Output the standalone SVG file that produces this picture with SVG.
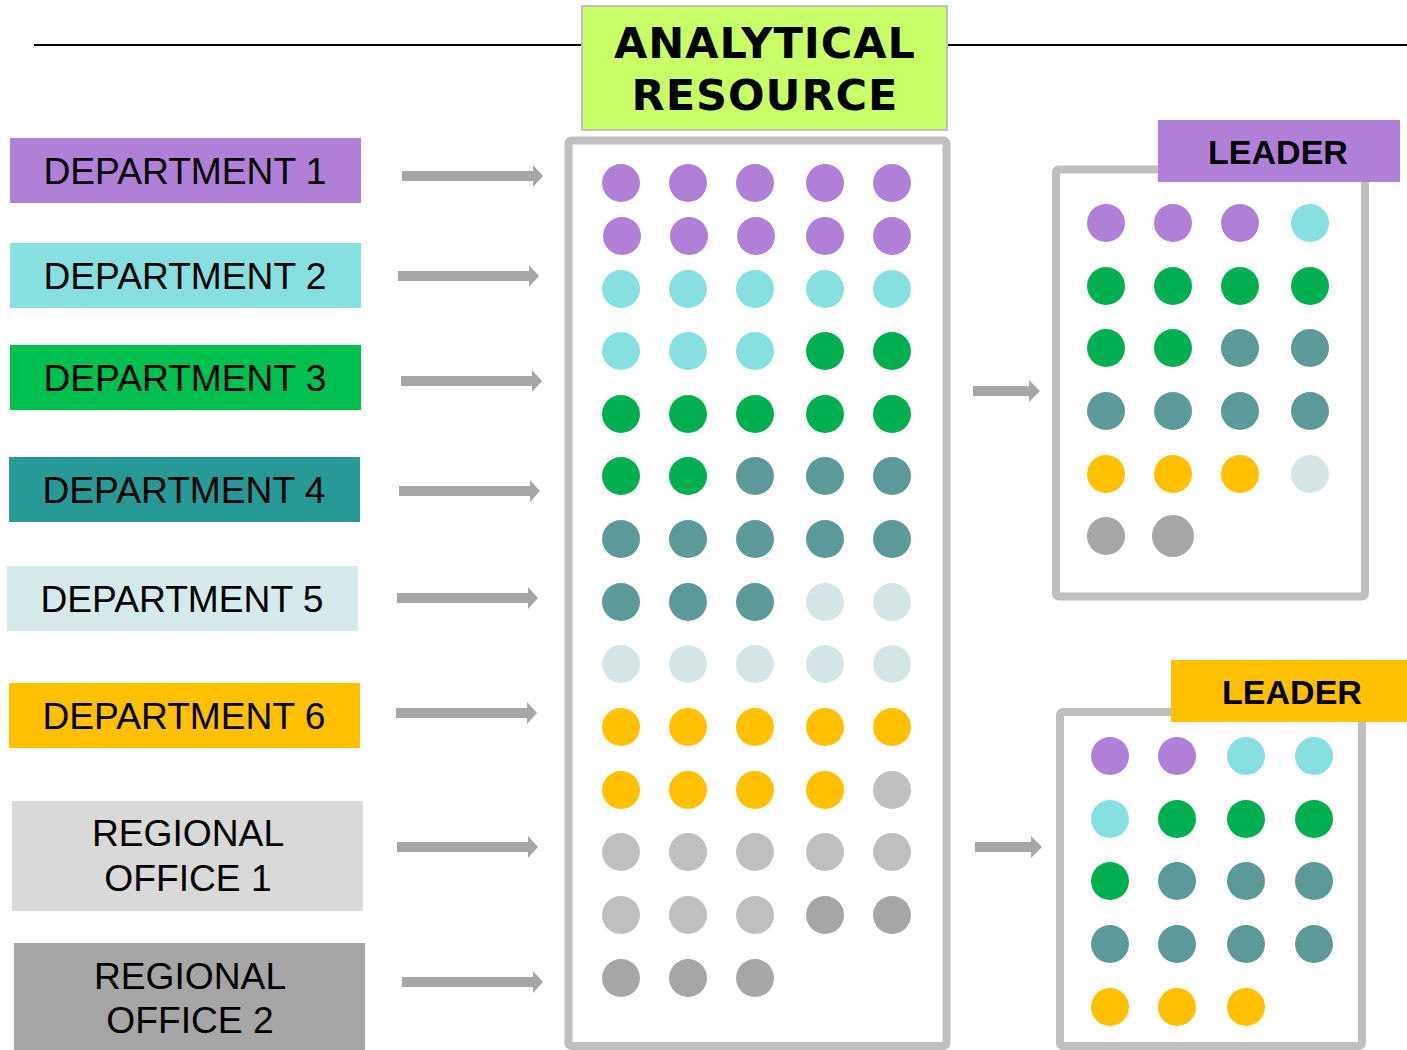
<svg xmlns="http://www.w3.org/2000/svg" width="1407" height="1050" viewBox="0 0 1407 1050">
<style>
.lbl{font-family:"Liberation Sans",Arial,sans-serif;font-size:37.2px;fill:#000;text-anchor:middle}
.ldr{font-family:"Liberation Sans",Arial,sans-serif;font-size:34px;font-weight:bold;fill:#000;text-anchor:middle}
.ttl{font-family:"DejaVu Sans",Verdana,sans-serif;font-size:43px;font-weight:bold;fill:#000;text-anchor:middle;letter-spacing:1px}
.frame{fill:#fff;stroke:#bfbfbf;stroke-width:8}
.arr{fill:#a6a6a6}
.P{fill:#b07fd7}.C{fill:#87e0e0}.G{fill:#00b050}.T{fill:#5b9a98}.W{fill:#d3e5e5}.Y{fill:#ffc000}.L{fill:#bfbfbf}.D{fill:#a6a6a6}
</style>
<defs>
<path id="arrow" d="M0,-5 L131,-5 L131,-11 L141,0 L131,11 L131,5 L0,5 Z"/>
<path id="arrowS" d="M0,-5 L56,-5 L56,-11 L67,0 L56,11 L56,5 L0,5 Z"/>
</defs>
<rect width="1407" height="1050" fill="#fff"/>
<g id="header">
<line x1="34" y1="45" x2="1407" y2="45" stroke="#000" stroke-width="2"/>
<rect x="582" y="6" width="365" height="124" fill="#c8ff66" stroke="#c0c0c0" stroke-width="2"/>
<text class="ttl" x="765" y="58">ANALYTICAL</text>
<text class="ttl" x="765" y="110">RESOURCE</text>
</g>
<g id="dept1"><rect x="10" y="138" width="351" height="65" fill="#b07fd7"/><text class="lbl" x="185" y="184">DEPARTMENT 1</text></g>
<g id="dept2"><rect x="10" y="243" width="351" height="65" fill="#87e0e0"/><text class="lbl" x="185" y="289">DEPARTMENT 2</text></g>
<g id="dept3"><rect x="10" y="345" width="351" height="65" fill="#00c050"/><text class="lbl" x="185" y="391">DEPARTMENT 3</text></g>
<g id="dept4"><rect x="9" y="457" width="351" height="65" fill="#279a98"/><text class="lbl" x="184" y="503">DEPARTMENT 4</text></g>
<g id="dept5"><rect x="7" y="566" width="351" height="65" fill="#d5eaea"/><text class="lbl" x="182" y="612">DEPARTMENT 5</text></g>
<g id="dept6"><rect x="9" y="683" width="351" height="65" fill="#ffc000"/><text class="lbl" x="184" y="729">DEPARTMENT 6</text></g>
<g id="region1"><rect x="12" y="801" width="351" height="110" fill="#d9d9d9"/><text class="lbl" x="188" y="846">REGIONAL</text><text class="lbl" x="188" y="891">OFFICE 1</text></g>
<g id="region2"><rect x="14" y="943" width="351" height="107" fill="#a6a6a6"/><text class="lbl" x="190" y="989">REGIONAL</text><text class="lbl" x="190" y="1033">OFFICE 2</text></g>
<g id="connectors" class="arr">
<use href="#arrow" x="402" y="176"/>
<use href="#arrow" x="398" y="276"/>
<use href="#arrow" x="401" y="381"/>
<use href="#arrow" x="399" y="491"/>
<use href="#arrow" x="397" y="598"/>
<use href="#arrow" x="396" y="713"/>
<use href="#arrow" x="397" y="847"/>
<use href="#arrow" x="402" y="982"/>
<use href="#arrowS" x="973" y="391"/>
<use href="#arrowS" x="975" y="847"/>
</g>
<g id="analytical-resource">
<rect class="frame" x="568.5" y="140.5" width="378" height="905.5" rx="3"/>
<g>
<circle class="P" cx="621" cy="183" r="19"/><circle class="P" cx="688" cy="183" r="19"/><circle class="P" cx="755" cy="183" r="19"/><circle class="P" cx="825" cy="183" r="19"/><circle class="P" cx="892" cy="183" r="19"/>
<circle class="P" cx="622" cy="236" r="19"/><circle class="P" cx="689" cy="236" r="19"/><circle class="P" cx="756" cy="236" r="19"/><circle class="P" cx="825" cy="236" r="19"/><circle class="P" cx="892" cy="236" r="19"/>
<circle class="C" cx="621" cy="289" r="19"/><circle class="C" cx="688" cy="289" r="19"/><circle class="C" cx="755" cy="289" r="19"/><circle class="C" cx="825" cy="289" r="19"/><circle class="C" cx="892" cy="289" r="19"/>
<circle class="C" cx="621" cy="351" r="19"/><circle class="C" cx="688" cy="351" r="19"/><circle class="C" cx="755" cy="351" r="19"/><circle class="G" cx="825" cy="351" r="19"/><circle class="G" cx="892" cy="351" r="19"/>
<circle class="G" cx="621" cy="414" r="19"/><circle class="G" cx="688" cy="414" r="19"/><circle class="G" cx="755" cy="414" r="19"/><circle class="G" cx="825" cy="414" r="19"/><circle class="G" cx="892" cy="414" r="19"/>
<circle class="G" cx="621" cy="476" r="19"/><circle class="G" cx="688" cy="476" r="19"/><circle class="T" cx="755" cy="476" r="19"/><circle class="T" cx="825" cy="476" r="19"/><circle class="T" cx="892" cy="476" r="19"/>
<circle class="T" cx="621" cy="539" r="19"/><circle class="T" cx="688" cy="539" r="19"/><circle class="T" cx="755" cy="539" r="19"/><circle class="T" cx="825" cy="539" r="19"/><circle class="T" cx="892" cy="539" r="19"/>
<circle class="T" cx="621" cy="602" r="19"/><circle class="T" cx="688" cy="602" r="19"/><circle class="T" cx="755" cy="602" r="19"/><circle class="W" cx="825" cy="602" r="19"/><circle class="W" cx="892" cy="602" r="19"/>
<circle class="W" cx="621" cy="664" r="19"/><circle class="W" cx="688" cy="664" r="19"/><circle class="W" cx="755" cy="664" r="19"/><circle class="W" cx="825" cy="664" r="19"/><circle class="W" cx="892" cy="664" r="19"/>
<circle class="Y" cx="621" cy="727" r="19"/><circle class="Y" cx="688" cy="727" r="19"/><circle class="Y" cx="755" cy="727" r="19"/><circle class="Y" cx="825" cy="727" r="19"/><circle class="Y" cx="892" cy="727" r="19"/>
<circle class="Y" cx="621" cy="790" r="19"/><circle class="Y" cx="688" cy="790" r="19"/><circle class="Y" cx="755" cy="790" r="19"/><circle class="Y" cx="825" cy="790" r="19"/><circle class="L" cx="892" cy="790" r="19"/>
<circle class="L" cx="621" cy="852" r="19"/><circle class="L" cx="688" cy="852" r="19"/><circle class="L" cx="755" cy="852" r="19"/><circle class="L" cx="825" cy="852" r="19"/><circle class="L" cx="892" cy="852" r="19"/>
<circle class="L" cx="621" cy="915" r="19"/><circle class="L" cx="688" cy="915" r="19"/><circle class="L" cx="755" cy="915" r="19"/><circle class="D" cx="825" cy="915" r="19"/><circle class="D" cx="892" cy="915" r="19"/>
<circle class="D" cx="621" cy="978" r="19"/><circle class="D" cx="688" cy="978" r="19"/><circle class="D" cx="755" cy="978" r="19"/>
</g>
</g>
<g id="team1">
<rect class="frame" x="1056" y="169.5" width="309" height="427" rx="3"/>
<rect x="1158" y="120" width="242" height="62" fill="#b07fd7"/>
<text class="ldr" x="1278" y="164">LEADER</text>
<circle class="P" cx="1106" cy="223" r="19"/><circle class="P" cx="1173" cy="223" r="19"/><circle class="P" cx="1240" cy="223" r="19"/><circle class="C" cx="1310" cy="223" r="19"/>
<circle class="G" cx="1106" cy="286" r="19"/><circle class="G" cx="1173" cy="286" r="19"/><circle class="G" cx="1240" cy="286" r="19"/><circle class="G" cx="1310" cy="286" r="19"/>
<circle class="G" cx="1106" cy="348" r="19"/><circle class="G" cx="1173" cy="348" r="19"/><circle class="T" cx="1240" cy="348" r="19"/><circle class="T" cx="1310" cy="348" r="19"/>
<circle class="T" cx="1106" cy="411" r="19"/><circle class="T" cx="1173" cy="411" r="19"/><circle class="T" cx="1240" cy="411" r="19"/><circle class="T" cx="1310" cy="411" r="19"/>
<circle class="Y" cx="1106" cy="474" r="19"/><circle class="Y" cx="1173" cy="474" r="19"/><circle class="Y" cx="1240" cy="474" r="19"/><circle class="W" cx="1310" cy="474" r="19"/>
<circle class="D" cx="1106" cy="536" r="19"/><circle class="D" cx="1173" cy="536" r="21"/>
</g>
<g id="team2">
<rect class="frame" x="1060" y="712" width="302" height="334" rx="3"/>
<rect x="1171" y="660" width="236" height="62" fill="#ffc000"/>
<text class="ldr" x="1292" y="704">LEADER</text>
<circle class="P" cx="1110" cy="756" r="19"/><circle class="P" cx="1177" cy="756" r="19"/><circle class="C" cx="1246" cy="756" r="19"/><circle class="C" cx="1314" cy="756" r="19"/>
<circle class="C" cx="1110" cy="819" r="19"/><circle class="G" cx="1177" cy="819" r="19"/><circle class="G" cx="1246" cy="819" r="19"/><circle class="G" cx="1314" cy="819" r="19"/>
<circle class="G" cx="1110" cy="881" r="19"/><circle class="T" cx="1177" cy="881" r="19"/><circle class="T" cx="1246" cy="881" r="19"/><circle class="T" cx="1314" cy="881" r="19"/>
<circle class="T" cx="1110" cy="944" r="19"/><circle class="T" cx="1177" cy="944" r="19"/><circle class="T" cx="1246" cy="944" r="19"/><circle class="T" cx="1314" cy="944" r="19"/>
<circle class="Y" cx="1110" cy="1007" r="19"/><circle class="Y" cx="1177" cy="1007" r="19"/><circle class="Y" cx="1246" cy="1007" r="19"/>
</g>
</svg>
